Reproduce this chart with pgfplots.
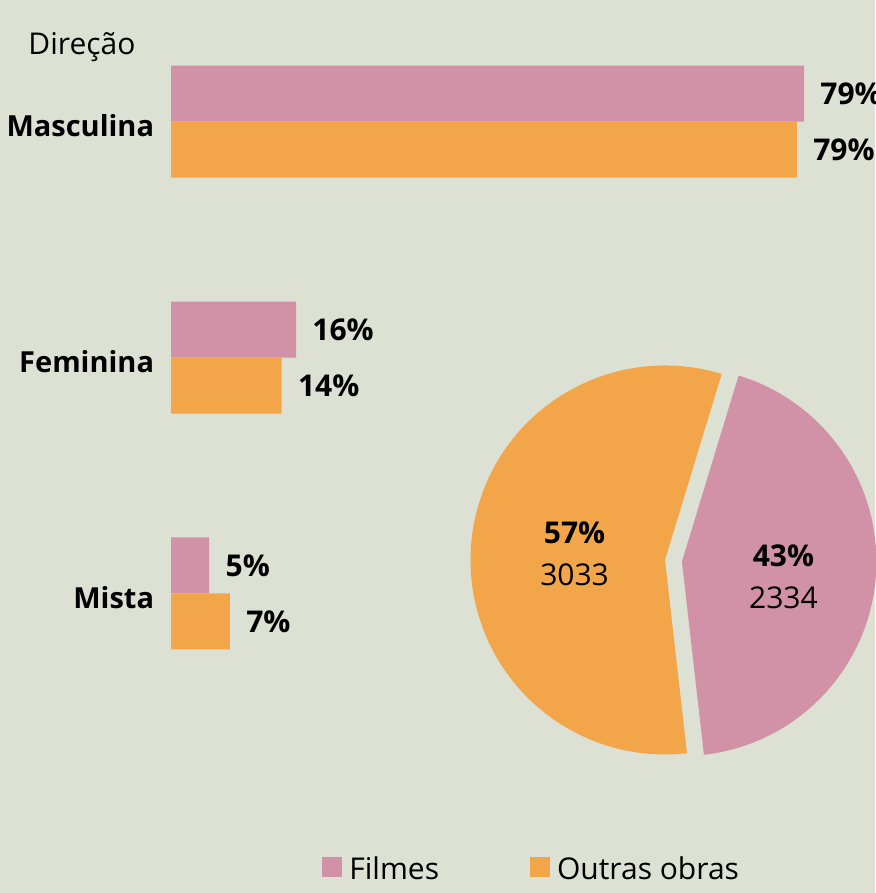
\documentclass[border=0pt]{standalone}
\usepackage{fontspec}
\setmainfont{Open Sans}
\usepackage{pgfplots}
\usepackage{pgfplotstable}
\pgfplotsset{compat=1.18}
\definecolor{bgc}{RGB}{220,225,212}
\definecolor{pinkc}{RGB}{209,145,166}
\definecolor{orangec}{RGB}{242,166,73}

% Direcao: share of each group (%), label = rounded value
\pgfplotstableread{
cat val lab
0 79.5 79
1 15.7 16
2 4.8 5
}\filmes
\pgfplotstableread{
cat val lab
0 78.6 79
1 13.9 14
2 7.4 7
}\outras

% pie totals
\def\nfilmes{2334}
\def\noutras{3033}

\begin{document}
\begin{tikzpicture}[font=\fontsize{15}{18}\selectfont]
\path[use as bounding box] (0pt,0pt) rectangle (437.5pt,-446.5pt);
\fill[bgc] (0pt,0pt) rectangle (437.5pt,-446.5pt);

\node[anchor=base west,inner sep=0pt] at (14pt,-27.5pt) {Direção};

\begin{axis}[
    at={(85.5pt,-1.9pt)}, anchor=north west,
    scale only axis, width=398.15pt, height=353.7pt,
    xbar=0pt, bar width=28pt,
    xmin=0, xmax=100, ymin=-0.5, ymax=2.5, y dir=reverse,
    axis line style={draw=none}, tick style={draw=none},
    xtick=\empty, ytick={0,1,2},
    yticklabels={Masculina,Feminina,Mista},
    yticklabel style={font=\fontsize{14.5}{18}\selectfont\bfseries, anchor=base east, inner sep=0pt, xshift=-4pt, yshift=-7.5pt},
    point meta=explicit symbolic,
    nodes near coords={\pgfplotspointmeta\%},
    every node near coord/.append style={font=\fontsize{15}{18}\selectfont\bfseries, anchor=west, inner sep=0pt, xshift=8pt},
    legend image code/.code={\fill[#1,draw=none] (0pt,-3.5pt) rectangle (10pt,6.5pt);},
    legend columns=2,
    legend style={at={(0.1896,-0.2245)}, anchor=west, draw=none, fill=none,
        font=\fontsize{15}{18}\selectfont, inner sep=0pt,
        /tikz/every odd column/.style={column sep=1.5pt},
        /tikz/every even column/.style={column sep=43.5pt}},
]
\addplot[fill=pinkc, draw=none, bar shift=14pt] table[x=val, y=cat, meta=lab] {\filmes};
\addplot[fill=orangec, draw=none, bar shift=-14pt] table[x=val, y=cat, meta=lab] {\outras};
\legend{Filmes, Outras obras}
\end{axis}

% pie: angles from the totals
\pgfmathsetmacro{\tot}{\nfilmes+\noutras}
\pgfmathsetmacro{\pa}{360*(\nfilmes/\tot)}
\pgfmathsetmacro{\sa}{73.05}
\pgfmathsetmacro{\pe}{\sa-\pa}
\pgfmathsetmacro{\oe}{\sa+360-\pa}
\pgfmathsetmacro{\pmidang}{\sa-\pa/2}
\pgfmathsetmacro{\dx}{0.0874*cos(\pmidang)}
\pgfmathsetmacro{\dy}{0.0874*sin(\pmidang)}
\begin{axis}[
    at={(332.5pt,-280pt)}, anchor=center,
    scale only axis, width=194.5pt, height=194.5pt,
    xmin=-1, xmax=1, ymin=-1, ymax=1,
    hide axis, clip=false,
]
\fill[orangec] (axis cs:0,0) -- (axis cs:{cos(\sa)},{sin(\sa)})
    arc[start angle=\sa, end angle=\oe, radius=97.25pt] -- cycle;
\fill[pinkc] (axis cs:\dx,\dy) -- (axis cs:{\dx+cos(\pe)},{\dy+sin(\pe)})
    arc[start angle=\pe, end angle=\sa, radius=97.25pt] -- cycle;
\node[font=\fontsize{15}{18}\selectfont\bfseries] at (axis cs:-0.465,0.139) {57\%};
\node at (axis cs:-0.465,-0.077) {3033};
\node[font=\fontsize{15}{18}\selectfont\bfseries] at (axis cs:0.609,0.021) {43\%};
\node at (axis cs:0.609,-0.195) {2334};
\end{axis}
\end{tikzpicture}
\end{document}
